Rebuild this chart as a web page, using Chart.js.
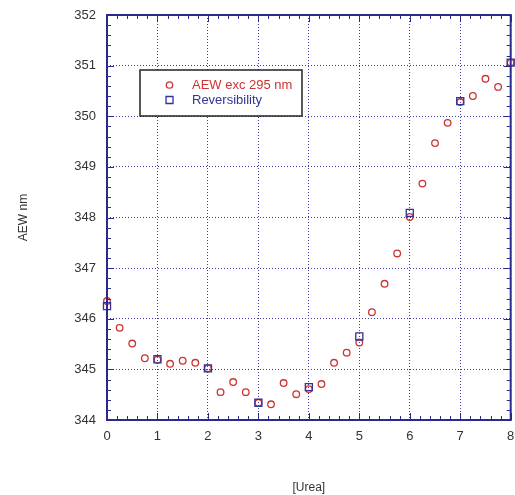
<!DOCTYPE html>
<html>
<head>
<meta charset="utf-8">
<script src="https://cdn.jsdelivr.net/npm/chart.js@4/dist/chart.umd.min.js"></script>
<style>
  html, body { margin: 0; padding: 0; background: #fff; overflow: hidden; }
  #wrap { width: 517px; height: 495px; }
</style>
</head>
<body>
<div id="wrap"><canvas id="aewChart"></canvas></div>
<script>
// urea concentrations (M)
const ureaConc = [0, 0.25, 0.5, 0.75, 1, 1.25, 1.5, 1.75, 2, 2.25, 2.5, 2.75, 3, 3.25, 3.5, 3.75,
                  4, 4.25, 4.5, 4.75, 5, 5.25, 5.5, 5.75, 6, 6.25, 6.5, 6.75, 7, 7.25, 7.5, 7.75, 8];
const aewValues = [346.35, 345.82, 345.51, 345.22, 345.19, 345.11, 345.17, 345.13, 345.02, 344.55, 344.75,
                   344.55, 344.34, 344.31, 344.73, 344.51, 344.61, 344.71, 345.13, 345.33, 345.53, 346.13,
                   346.69, 347.29, 348.01, 348.67, 349.47, 349.87, 350.28, 350.40, 350.74, 350.58, 351.06];
const revConc = [0, 1, 2, 3, 4, 5, 6, 7, 8];
const revValues = [346.25, 345.20, 345.02, 344.34, 344.65, 345.65, 348.09, 350.30, 351.06];

const redCol = '#cc3333';
const blueCol = '#33339a';
const frameCol = '#2a2a8a';
const fontFam = '"Liberation Sans", Arial, sans-serif';

function toPoints(xs, ys) {
    return xs.map((x, i) => ({ x: x, y: ys[i] }));
}

// frame on all four sides plus inward minor ticks every 0.2
const framePlugin = {
    id: 'frame',
    afterDatasetsDraw(chart) {
        const { ctx, chartArea: a, scales } = chart;
        ctx.save();
        ctx.strokeStyle = frameCol;
        ctx.lineWidth = 1;
        const xs = scales.x, ys = scales.y;
        for (let v = xs.min; v <= xs.max + 1e-9; v += 0.2) {
            const px = Math.round(xs.getPixelForValue(v)) + 0.5;
            const len = Math.abs(v - Math.round(v)) < 1e-6 ? 7 : 4;
            ctx.beginPath();
            ctx.moveTo(px, a.bottom); ctx.lineTo(px, a.bottom - len);
            ctx.moveTo(px, a.top); ctx.lineTo(px, a.top + len);
            ctx.stroke();
        }
        for (let v = ys.min; v <= ys.max + 1e-9; v += 0.2) {
            const py = Math.round(ys.getPixelForValue(v)) + 0.5;
            const len = Math.abs(v - Math.round(v)) < 1e-6 ? 7 : 4;
            ctx.beginPath();
            ctx.moveTo(a.left, py); ctx.lineTo(a.left + len, py);
            ctx.moveTo(a.right, py); ctx.lineTo(a.right - len, py);
            ctx.stroke();
        }
        ctx.lineWidth = 2;
        ctx.strokeRect(a.left, a.top, a.right - a.left, a.bottom - a.top);
        ctx.restore();
    }
};

// boxed legend inside the plot
const boxLegend = {
    id: 'boxLegend',
    afterDraw(chart) {
        const { ctx } = chart;
        const bx = 140, by = 70, bw = 162, bh = 46;
        ctx.save();
        ctx.fillStyle = '#fff';
        ctx.fillRect(bx, by, bw, bh);
        ctx.strokeStyle = '#222';
        ctx.lineWidth = 1.5;
        ctx.strokeRect(bx, by, bw, bh);
        ctx.font = '13px ' + fontFam;
        ctx.textBaseline = 'middle';
        chart.data.datasets.forEach((ds, i) => {
            const y = by + 15 + i * 15;
            ctx.strokeStyle = ds.borderColor;
            ctx.lineWidth = 1.3;
            ctx.beginPath();
            if (ds.pointStyle === 'rect') {
                ctx.rect(166, y - 3.5, 7, 7);
            } else {
                ctx.arc(169.5, y, 3.2, 0, Math.PI * 2);
            }
            ctx.stroke();
            ctx.fillStyle = ds.borderColor;
            ctx.fillText(ds.label, 192, y);
        });
        ctx.restore();
    }
};

new Chart(document.getElementById('aewChart'), {
    type: 'scatter',
    data: {
        datasets: [{
            label: 'AEW exc 295 nm',
            data: toPoints(ureaConc, aewValues),
            pointStyle: 'circle',
            pointRadius: 3.3,
            borderWidth: 1.3,
            borderColor: redCol,
            backgroundColor: 'rgba(0,0,0,0)',
            clip: false,
            order: 2
        }, {
            label: 'Reversibility',
            data: toPoints(revConc, revValues),
            pointStyle: 'rect',
            pointRadius: 5,
            borderWidth: 1.3,
            borderColor: blueCol,
            backgroundColor: 'rgba(0,0,0,0)',
            clip: false,
            order: 1
        }]
    },
    options: {
        responsive: true,
        maintainAspectRatio: false,
        animation: false,
        layout: { padding: { top: 15, right: 0, left: 0, bottom: 0 } },
        plugins: {
            legend: { display: false },
            tooltip: { enabled: false }
        },
        scales: {
            x: {
                type: 'linear',
                min: 0,
                max: 8,
                afterFit(scale) {
                    scale.height = 75;
                    scale.paddingLeft = 0;
                    scale.paddingRight = 0;
                },
                ticks: {
                    stepSize: 1,
                    padding: 9,
                    color: '#333',
                    font: { family: fontFam, size: 13 }
                },
                grid: { color: '#3a3aa8', lineWidth: 1, drawTicks: false },
                border: { display: false, dash: [1, 2] },
                title: {
                    display: true,
                    text: '[Urea]',
                    color: '#333',
                    padding: { top: 2, bottom: 0 },
                    font: { family: fontFam, size: 12 }
                }
            },
            y: {
                type: 'linear',
                min: 344,
                max: 352,
                afterFit(scale) {
                    scale.width = 107;
                    scale.paddingTop = 0;
                    scale.paddingBottom = 0;
                },
                ticks: {
                    stepSize: 1,
                    padding: 11,
                    color: '#333',
                    font: { family: fontFam, size: 13 }
                },
                grid: { color: '#3a3aa8', lineWidth: 1, drawTicks: false },
                border: { display: false, dash: [1, 2] },
                title: {
                    display: true,
                    text: 'AEW nm',
                    color: '#333',
                    padding: { top: 16, bottom: 0 },
                    font: { family: fontFam, size: 12 }
                }
            }
        }
    },
    plugins: [framePlugin, boxLegend]
});
</script>
</body>
</html>
